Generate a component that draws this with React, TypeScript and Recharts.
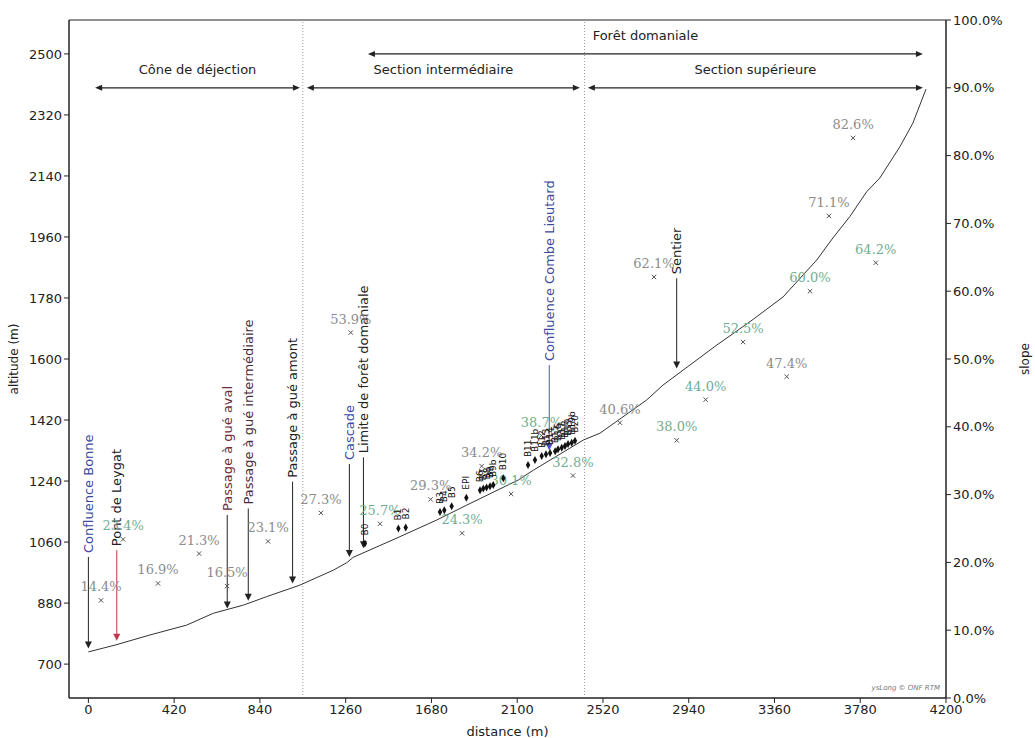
import React from 'react';
import { ComposedChart, Line, Scatter, XAxis, YAxis, ReferenceLine, ReferenceArea } from 'recharts';

const distTicks = [0, 420, 840, 1260, 1680, 2100, 2520, 2940, 3360, 3780, 4200];
const altTicks = [700, 880, 1060, 1240, 1420, 1600, 1780, 1960, 2140, 2320, 2500];
const slopeTicks = [0, 10, 20, 30, 40, 50, 60, 70, 80, 90, 100];

// long profile of the stream bed
const profile = [
  { d: 0, alt: 736 }, { d: 130, alt: 756 }, { d: 302, alt: 786 }, { d: 481, alt: 815 },
  { d: 612, alt: 850 }, { d: 759, alt: 874 }, { d: 873, alt: 899 }, { d: 1036, alt: 933 },
  { d: 1199, alt: 977 }, { d: 1265, alt: 999 }, { d: 1297, alt: 1015 }, { d: 1526, alt: 1076 },
  { d: 1706, alt: 1125 }, { d: 1853, alt: 1169 }, { d: 2105, alt: 1243 }, { d: 2179, alt: 1272 },
  { d: 2424, alt: 1361 }, { d: 2505, alt: 1381 }, { d: 2734, alt: 1479 }, { d: 2814, alt: 1523 },
  { d: 2912, alt: 1567 }, { d: 3077, alt: 1641 }, { d: 3240, alt: 1710 }, { d: 3402, alt: 1783 },
  { d: 3567, alt: 1892 }, { d: 3646, alt: 1957 }, { d: 3729, alt: 2020 }, { d: 3811, alt: 2093 },
  { d: 3876, alt: 2134 }, { d: 3974, alt: 2226 }, { d: 4038, alt: 2296 }, { d: 4102, alt: 2396 },
];

// slope of each reach (%)
const slopes = [
  { d: 62, s: 14.4 }, { d: 170, s: 23.4 }, { d: 341, s: 16.9 }, { d: 542, s: 21.3 },
  { d: 679, s: 16.5 }, { d: 880, s: 23.1 }, { d: 1139, s: 27.3 }, { d: 1285, s: 53.9 },
  { d: 1428, s: 25.7 }, { d: 1676, s: 29.3 }, { d: 1830, s: 24.3 }, { d: 1926, s: 34.2 },
  { d: 2070, s: 30.1 }, { d: 2219, s: 38.7 }, { d: 2373, s: 32.8 }, { d: 2603, s: 40.6 },
  { d: 2770, s: 62.1 }, { d: 2881, s: 38.0 }, { d: 3023, s: 44.0 }, { d: 3206, s: 52.5 },
  { d: 3420, s: 47.4 }, { d: 3534, s: 60.0 }, { d: 3627, s: 71.1 }, { d: 3745, s: 82.6 },
  { d: 3856, s: 64.2 },
];
const GREEN_AT = [1, 8, 10, 12, 13, 14, 17, 18, 19, 21, 24];

// check dams
const dams = [
  { name: 'B0', d: 1354, alt: 1056 }, { name: 'B1', d: 1518, alt: 1100 }, { name: 'B2', d: 1554, alt: 1103 },
  { name: 'B3', d: 1722, alt: 1149 }, { name: 'B4', d: 1743, alt: 1154 }, { name: 'B5', d: 1779, alt: 1166 },
  { name: 'EPI', d: 1851, alt: 1191 }, { name: 'B6', d: 1918, alt: 1213 }, { name: 'B7', d: 1934, alt: 1218 },
  { name: 'B8', d: 1950, alt: 1221 }, { name: 'B9', d: 1967, alt: 1225 }, { name: 'B9b', d: 1983, alt: 1228 },
  { name: 'B10', d: 2032, alt: 1248 }, { name: 'B11', d: 2153, alt: 1287 }, { name: 'B11b', d: 2187, alt: 1302 },
  { name: 'B12', d: 2220, alt: 1314 }, { name: 'B13', d: 2241, alt: 1319 }, { name: 'B14', d: 2261, alt: 1323 },
  { name: 'B15', d: 2286, alt: 1328 }, { name: 'B16', d: 2300, alt: 1334 }, { name: 'B17', d: 2318, alt: 1338 },
  { name: 'B18', d: 2334, alt: 1343 }, { name: 'B19', d: 2349, alt: 1349 }, { name: 'B19b', d: 2367, alt: 1353 },
  { name: 'B20', d: 2383, alt: 1359 },
];

// landmarks: arrow from tail (text side) down to tip
const landmarks = [
  { name: 'Confluence Bonne', d: 0, tip: 746, tail: 1016 },
  { name: 'Pont de Leygat', d: 139, tip: 769, tail: 1036 },
  { name: 'Passage à gué aval', d: 680, tip: 864, tail: 1140 },
  { name: 'Passage à gué intermédiaire', d: 783, tip: 887, tail: 1159 },
  { name: 'Passage à gué amont', d: 1000, tip: 938, tail: 1238 },
  { name: 'Cascade', d: 1278, tip: 1016, tail: 1290 },
  { name: 'Limite de forêt domaniale', d: 1347, tip: 1042, tail: 1310 },
  { name: 'Confluence Combe Lieutard', d: 2257, tip: 1330, tail: 1582 },
  { name: 'Sentier', d: 2881, tip: 1572, tail: 1838 },
];

const sections = [
  { name: 'Cône de déjection', from: 33, to: 1036, alt: 2400 },
  { name: 'Section intermédiaire', from: 1070, to: 2407, alt: 2400 },
  { name: 'Section supérieure', from: 2446, to: 4087, alt: 2400 },
  { name: 'Forêt domaniale', from: 1369, to: 4087, alt: 2500 },
];

const boundaries = [1050, 2430];

const TEXT_COLOR: Record<string, string> = {
  'Confluence Bonne': '#3b4a9c',
  'Passage à gué aval': '#6e2a38',
  'Passage à gué intermédiaire': '#4a2c3e',
  'Cascade': '#3b4aa8',
  'Confluence Combe Lieutard': '#3b4a9c',
};
const ARROW_COLOR: Record<string, string> = {
  'Pont de Leygat': '#c8324a',
  'Confluence Combe Lieutard': '#4a52c8',
};

const INK = '#222';

const SlopeMark = (props: any) => {
  const { cx, cy, payload } = props;
  const i = slopes.findIndex((p) => p.d === payload.d);
  const fill = GREEN_AT.includes(i) ? '#6fae92' : '#8c8c8c';
  const r = 2.2;
  return (
    <g>
      <path d={`M${cx - r},${cy - r}L${cx + r},${cy + r}M${cx - r},${cy + r}L${cx + r},${cy - r}`} stroke="#555" strokeWidth={1} />
      <text x={cx} y={cy - 9} textAnchor="middle" fontSize={13} fontFamily='"DejaVu Serif", serif' fill={fill}>{payload.s.toFixed(1)}%</text>
    </g>
  );
};

const DamMark = (props: any) => {
  const { cx, cy, payload } = props;
  return (
    <g>
      <path d={`M${cx},${cy - 4}L${cx + 2.2},${cy}L${cx},${cy + 4}L${cx - 2.2},${cy}Z`} fill="#111" />
      <text transform={`translate(${cx},${cy - 8}) rotate(-90)`} dominantBaseline="central" fontSize={9} fill="#111">{payload.name}</text>
    </g>
  );
};

const landmarkShape = (m: { name: string }) => (p: any) => {
  const { x1, y1, x2, y2 } = p;
  const col = ARROW_COLOR[m.name] ?? INK;
  return (
    <g>
      <line x1={x1} y1={y1} x2={x2} y2={y2 - 6} stroke={col} strokeWidth={1} />
      <polygon points={`${x2},${y2} ${x2 - 3.5},${y2 - 7} ${x2 + 3.5},${y2 - 7}`} fill={col} />
      <text transform={`translate(${x1},${y1 - 4}) rotate(-90)`} dominantBaseline="central" fontSize={13} fill={TEXT_COLOR[m.name] ?? INK}>{m.name}</text>
    </g>
  );
};

const sectionShape = (s: { name: string }) => (p: any) => {
  const { x1, y1, x2 } = p;
  return (
    <g>
      <line x1={x1 + 5} y1={y1} x2={x2 - 5} y2={y1} stroke={INK} strokeWidth={1.2} />
      <polygon points={`${x1},${y1} ${x1 + 7},${y1 - 3} ${x1 + 7},${y1 + 3}`} fill={INK} />
      <polygon points={`${x2},${y1} ${x2 - 7},${y1 - 3} ${x2 - 7},${y1 + 3}`} fill={INK} />
      <text x={(x1 + x2) / 2} y={y1 - 18} textAnchor="middle" dominantBaseline="central" fontSize={13} fill={INK}>{s.name}</text>
    </g>
  );
};

export default function App() {
  return (
    <div style={{ position: 'absolute', left: 0, top: 0, width: 1035, height: 738, background: '#fff', fontFamily: '"DejaVu Sans", sans-serif' }}>
      <ComposedChart width={1035} height={738} margin={{ top: 20, right: 10, bottom: 10, left: 9 }}>
        <XAxis
          type="number"
          dataKey="d"
          domain={[-95, 4200]}
          ticks={distTicks}
          interval={0}
          allowDataOverflow
          height={30}
          tickSize={5}
          stroke={INK}
          tick={{ fill: INK, fontSize: 13 }}
          label={{ value: 'distance (m)', position: 'insideBottom', offset: -8, fill: INK, fontSize: 13 }}
        />
        <YAxis
          yAxisId="alt"
          type="number"
          domain={[600, 2600]}
          ticks={altTicks}
          interval={0}
          allowDataOverflow
          width={60}
          tickSize={5}
          stroke={INK}
          tick={{ fill: INK, fontSize: 13 }}
          label={{ value: 'altitude (m)', angle: -90, position: 'insideLeft', offset: 5, fill: INK, fontSize: 12, style: { textAnchor: 'middle' } }}
        />
        <YAxis
          yAxisId="slope"
          orientation="right"
          type="number"
          domain={[0, 100]}
          ticks={slopeTicks}
          interval={0}
          allowDataOverflow
          width={79}
          tickSize={5}
          stroke={INK}
          tick={{ fill: INK, fontSize: 13 }}
          tickFormatter={(v: number) => `${v.toFixed(1)}%`}
          label={{ value: 'slope', angle: -90, position: 'insideRight', offset: 0, fill: INK, fontSize: 12, style: { textAnchor: 'middle' } }}
        />
        <ReferenceArea yAxisId="alt" x1={-95} x2={4200} y1={600} y2={2600} fill="none" stroke={INK} strokeWidth={1} />
        {boundaries.map((b) => (
          <ReferenceLine key={b} yAxisId="alt" x={b} stroke="#9a9a9a" strokeDasharray="1 2" />
        ))}
        {sections.map((s) => (
          <ReferenceLine
            key={s.name}
            yAxisId="alt"
            segment={[{ x: s.from, y: s.alt }, { x: s.to, y: s.alt }]}
            shape={sectionShape(s)}
          />
        ))}
        {landmarks.map((m) => (
          <ReferenceLine
            key={m.name}
            yAxisId="alt"
            segment={[{ x: m.d, y: m.tail }, { x: m.d, y: m.tip }]}
            shape={landmarkShape(m)}
          />
        ))}
        <Scatter data={slopes} dataKey="s" yAxisId="slope" shape={SlopeMark} isAnimationActive={false} />
        <Scatter data={dams} dataKey="alt" yAxisId="alt" shape={DamMark} isAnimationActive={false} />
        <Line
          data={profile}
          dataKey="alt"
          yAxisId="alt"
          type="linear"
          stroke="#333"
          strokeWidth={1}
          dot={false}
          activeDot={false}
          isAnimationActive={false}
        />
      </ComposedChart>
      <div style={{ position: 'absolute', left: 840, top: 684, width: 100, textAlign: 'right', fontSize: 7, fontStyle: 'italic', color: '#777' }}>
        ysLong © ONF RTM
      </div>
    </div>
  );
}
